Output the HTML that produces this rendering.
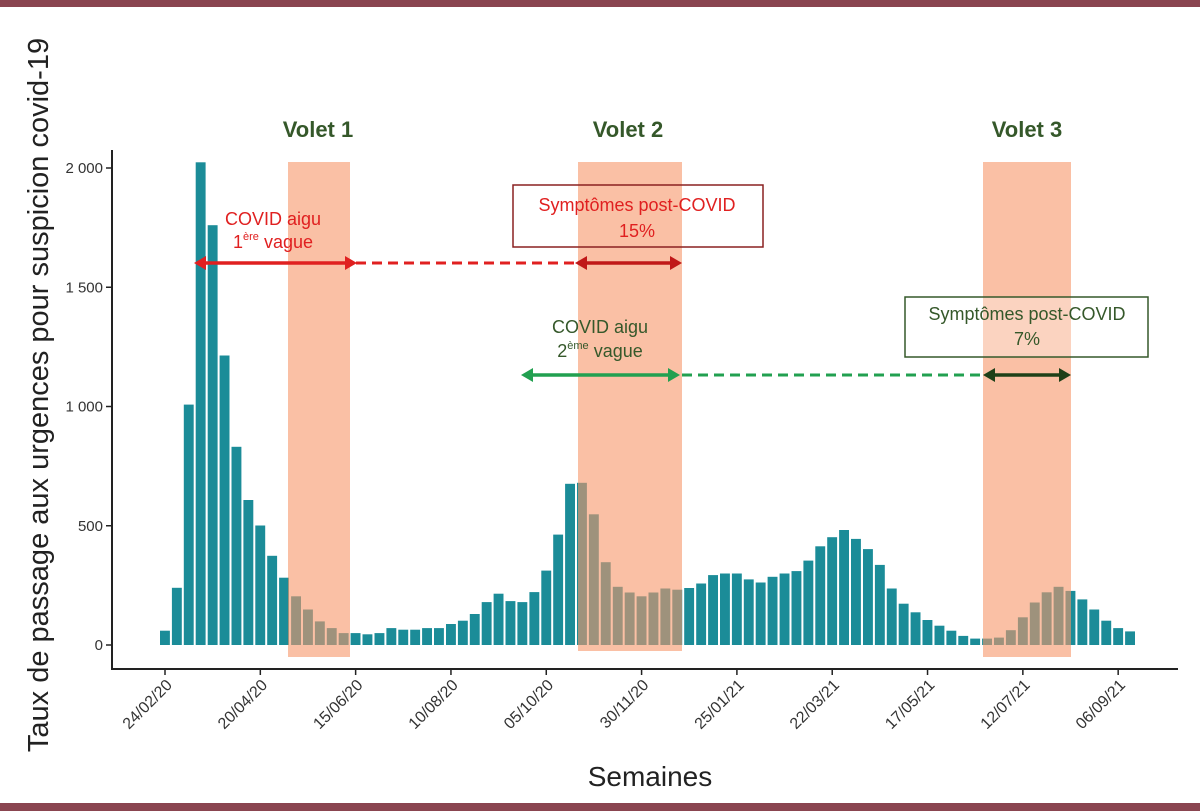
<!DOCTYPE html>
<html><head><meta charset="utf-8"><style>
html,body{margin:0;padding:0;background:#fff;}
svg{display:block;font-family:"Liberation Sans",sans-serif;}
</style></head><body>
<svg width="1200" height="811" viewBox="0 0 1200 811" xmlns="http://www.w3.org/2000/svg">
<rect x="0" y="0" width="1200" height="7" fill="#8a4550"/>
<rect x="0" y="803" width="1200" height="8" fill="#8a4550"/>
<g id="bars" fill="#1b8c98"></g>
<g fill="rgb(247,150,105)" fill-opacity="0.6">
<rect x="288" y="162" width="62" height="495"/>
<rect x="578" y="162" width="104" height="489"/>
<rect x="983" y="162" width="88" height="495"/>
</g>
<g stroke="#222" stroke-width="2" fill="none">
<path d="M112 150 V669 H1178"/>
</g>
<g id="yt" font-size="15" fill="#333" text-anchor="end"></g>
<g id="xt" font-size="16" fill="#333" text-anchor="end"></g>
<text transform="translate(48,395) rotate(-90)" text-anchor="middle" font-size="29" fill="#222">Taux de passage aux urgences pour suspicion covid-19</text>
<text x="650" y="786" text-anchor="middle" font-size="28" fill="#222">Semaines</text>
<g font-size="22" font-weight="bold" fill="#35582a" text-anchor="middle">
<text x="318" y="137">Volet 1</text><text x="628" y="137">Volet 2</text><text x="1027" y="137">Volet 3</text>
</g>
<g font-size="18" text-anchor="middle">
<text x="273" y="225" fill="#e02020">COVID aigu</text>
<text x="273" y="248" fill="#e02020">1<tspan font-size="11" dy="-8">ère</tspan><tspan dy="8"> vague</tspan></text>
<rect x="513" y="185" width="250" height="62" fill="none" stroke="#8a2020" stroke-width="1.5"/>
<text x="637" y="211" fill="#e02020">Symptômes post-COVID</text>
<text x="637" y="237" fill="#e02020">15%</text>
<text x="600" y="333" fill="#35582a">COVID aigu</text>
<text x="600" y="357" fill="#35582a">2<tspan font-size="11" dy="-8">ème</tspan><tspan dy="8"> vague</tspan></text>
<rect x="905" y="297" width="243" height="60" fill="#fff" fill-opacity="0.3" stroke="#35582a" stroke-width="1.5"/>
<text x="1027" y="320" fill="#35582a">Symptômes post-COVID</text>
<text x="1027" y="345" fill="#35582a">7%</text>
</g>
<g stroke-width="3.5" fill="none">
<line x1="200" y1="263" x2="350" y2="263" stroke="#e02020"/>
<line x1="356" y1="263" x2="575" y2="263" stroke="#e02020" stroke-width="3" stroke-dasharray="10,6"/>
<line x1="582" y1="263" x2="674" y2="263" stroke="#c01818"/>
<line x1="528" y1="375" x2="672" y2="375" stroke="#22a050"/>
<line x1="682" y1="375" x2="985" y2="375" stroke="#22a050" stroke-width="3" stroke-dasharray="10,6"/>
<line x1="990" y1="375" x2="1064" y2="375" stroke="#1e4018"/>
</g>
<g>
<path d="M194 263 l12 -7 v14 z" fill="#e02020"/><path d="M357 263 l-12 -7 v14 z" fill="#e02020"/>
<path d="M575 263 l12 -7 v14 z" fill="#c01818"/><path d="M682 263 l-12 -7 v14 z" fill="#c01818"/>
<path d="M521 375 l12 -7 v14 z" fill="#22a050"/><path d="M680 375 l-12 -7 v14 z" fill="#22a050"/>
<path d="M983 375 l12 -7 v14 z" fill="#1e4018"/><path d="M1071 375 l-12 -7 v14 z" fill="#1e4018"/>
</g>
</svg>
<script>
var v=[60,240,1008,2024,1760,1214,831,608,501,374,282,204,149,99,71,50,50,45,50,71,64,64,71,71,88,102,130,180,215,184,180,222,312,463,676,680,548,347,244,220,204,220,237,232,239,258,293,300,300,275,262,286,300,310,354,414,452,482,445,402,336,237,173,137,105,81,60,38,27,27,31,62,116,178,221,244,227,191,149,102,71,57];
var ns="http://www.w3.org/2000/svg",g=document.getElementById("bars");
var p=(1137-160)/v.length;
v.forEach(function(d,i){var r=document.createElementNS(ns,"rect");var h=d*0.2385;
r.setAttribute("x",(160+i*p).toFixed(1));r.setAttribute("y",(645-h).toFixed(1));
r.setAttribute("width",(p-2).toFixed(1));r.setAttribute("height",h.toFixed(1));g.appendChild(r);});
var yt=document.getElementById("yt");
[[0,"0"],[500,"500"],[1000,"1 000"],[1500,"1 500"],[2000,"2 000"]].forEach(function(t){var y=645-t[0]*0.2385;
var tx=document.createElementNS(ns,"text");tx.setAttribute("x",103);tx.setAttribute("y",y+5);tx.textContent=t[1];yt.appendChild(tx);
var l=document.createElementNS(ns,"line");l.setAttribute("x1",106);l.setAttribute("x2",112);l.setAttribute("y1",y);l.setAttribute("y2",y);l.setAttribute("stroke","#222");l.setAttribute("stroke-width",1.5);yt.appendChild(l);});
var xt=document.getElementById("xt");
["24/02/20","20/04/20","15/06/20","10/08/20","05/10/20","30/11/20","25/01/21","22/03/21","17/05/21","12/07/21","06/09/21"].forEach(function(s,k){
var x=165+k*8*p;var tx=document.createElementNS(ns,"text");
tx.setAttribute("transform","translate("+(x+8)+",686) rotate(-45)");tx.textContent=s;xt.appendChild(tx);
var l=document.createElementNS(ns,"line");l.setAttribute("x1",x);l.setAttribute("x2",x);l.setAttribute("y1",669);l.setAttribute("y2",675);l.setAttribute("stroke","#222");l.setAttribute("stroke-width",1.5);xt.appendChild(l);});
</script>
</body></html>
